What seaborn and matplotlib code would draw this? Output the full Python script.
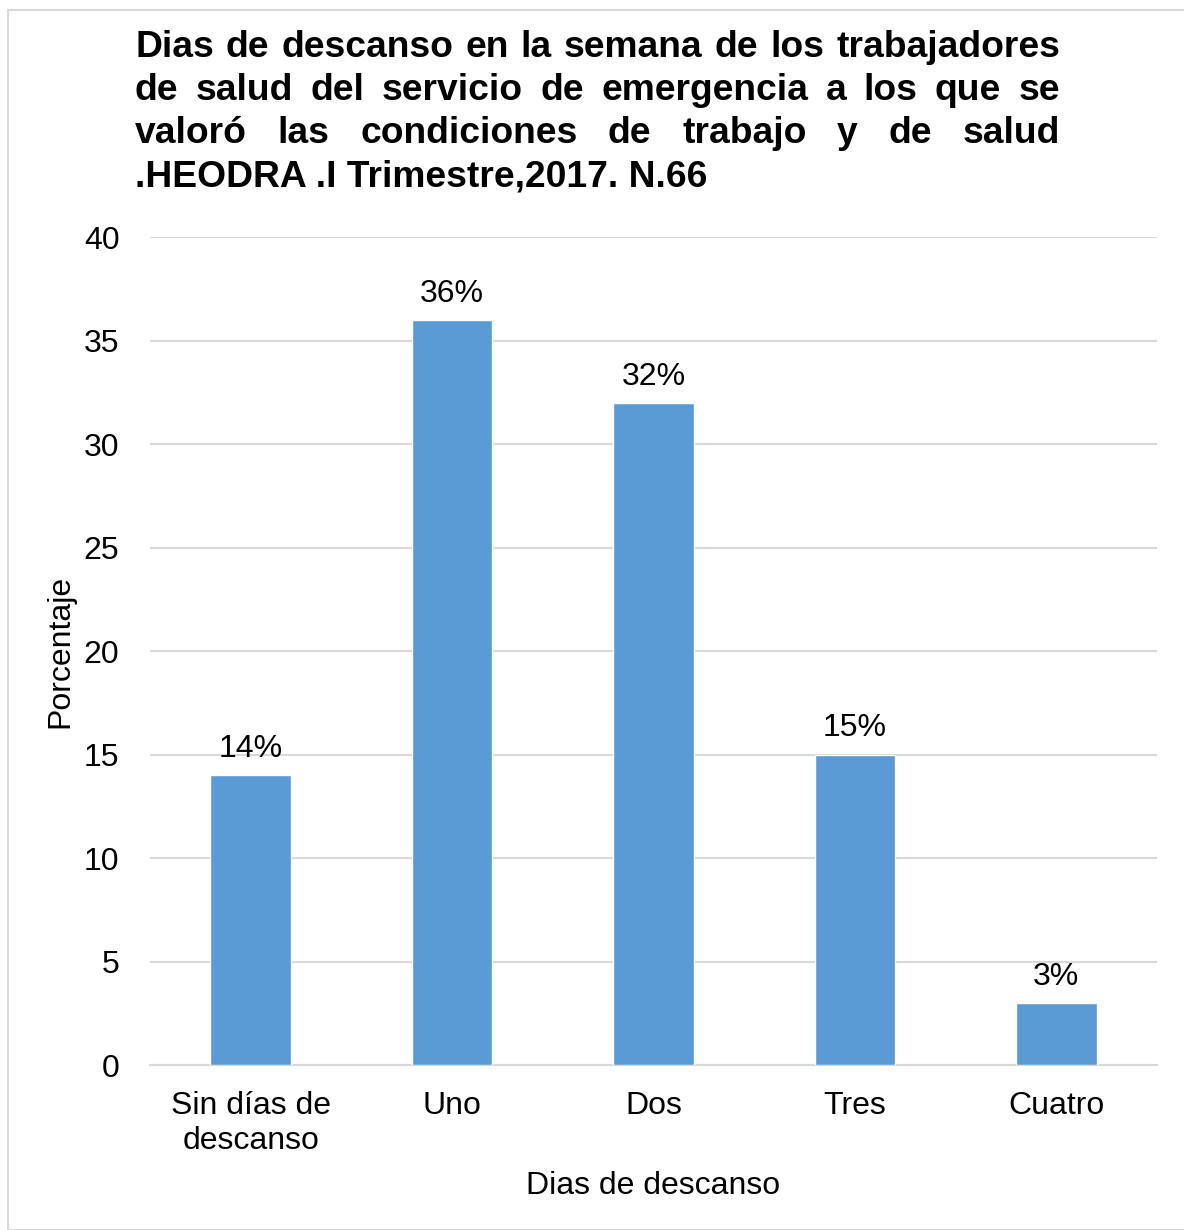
import matplotlib
matplotlib.use('Agg')
import matplotlib.pyplot as plt
import seaborn as sns
import pandas as pd
from matplotlib.patches import Rectangle

categorias = ['Sin días de\ndescanso', 'Uno', 'Dos', 'Tres', 'Cuatro']
porcentajes = [14, 36, 32, 15, 3]
etiquetas = ['14%', '36%', '32%', '15%', '3%']
titulo_lineas = [
    'Dias de descanso en la semana de los trabajadores',
    'de salud del servicio de emergencia a los que  se',
    'valoró las condiciones de trabajo y de salud',
    '.HEODRA .I Trimestre,2017. N.66',
]

sns.set_style('white')
plt.rcParams['font.family'] = ['Liberation Sans', 'DejaVu Sans']
plt.rcParams['text.color'] = 'black'
plt.rcParams['axes.labelcolor'] = 'black'

df = pd.DataFrame({'cat': categorias, 'val': porcentajes})

fig = plt.figure(figsize=(11.84, 12.30), dpi=100)
ax = fig.add_axes([0.1267, 0.1341, 0.9772 - 0.1267, 0.8073 - 0.1341])

sns.barplot(data=df, x='cat', y='val', color='#5B9BD5', saturation=1, width=0.4, ax=ax, zorder=3)

ax.set_ylim(0, 40)
ax.set_yticks(range(0, 41, 5))
ax.yaxis.grid(True, color='#d9d9d9', linewidth=1.5, zorder=0)
ax.set_axisbelow(True)
for s in ['top', 'right', 'left']:
    ax.spines[s].set_visible(False)
ax.spines['bottom'].set_color('#d9d9d9')
ax.spines['bottom'].set_linewidth(1.5)
ax.tick_params(axis='both', length=0, labelsize=23, colors='black')
ax.tick_params(axis='y', pad=22)
ax.tick_params(axis='x', pad=19)
ax.set_xlabel('Dias de descanso', fontsize=23, labelpad=11)
ax.set_ylabel('Porcentaje', fontsize=23, labelpad=6)

for p, lab in zip(ax.patches, etiquetas):
    ax.annotate(lab, (p.get_x() + p.get_width() / 2, p.get_height()),
                xytext=(0, 8), textcoords='offset points',
                ha='center', va='bottom', fontsize=23)

# justified title
W, H = 1184, 1230
x0, x1 = 135, 1060
baselines = [57, 100, 143, 186]
fig.canvas.draw()
r = fig.canvas.get_renderer()
for i, (linea, yb) in enumerate(zip(titulo_lineas, baselines)):
    words = linea.split()
    yf = 1 - yb / H
    if i == len(titulo_lineas) - 1:
        fig.text(x0 / W, yf, linea, fontsize=26.8, fontweight='bold', va='baseline', ha='left')
        continue
    ts = [fig.text(0, yf, w, fontsize=26.8, fontweight='bold', va='baseline') for w in words]
    widths = [t.get_window_extent(r).width for t in ts]
    gap = (x1 - x0 - sum(widths)) / (len(words) - 1)
    x = x0
    for t, w in zip(ts, widths):
        t.set_x(x / W)
        x += w + gap

fig.patches.append(Rectangle((8 / W, 0), 1, 1 - 10 / H, transform=fig.transFigure,
                             fill=False, edgecolor='#d9d9d9', linewidth=1.5))

fig.savefig('out.png', dpi=100)
